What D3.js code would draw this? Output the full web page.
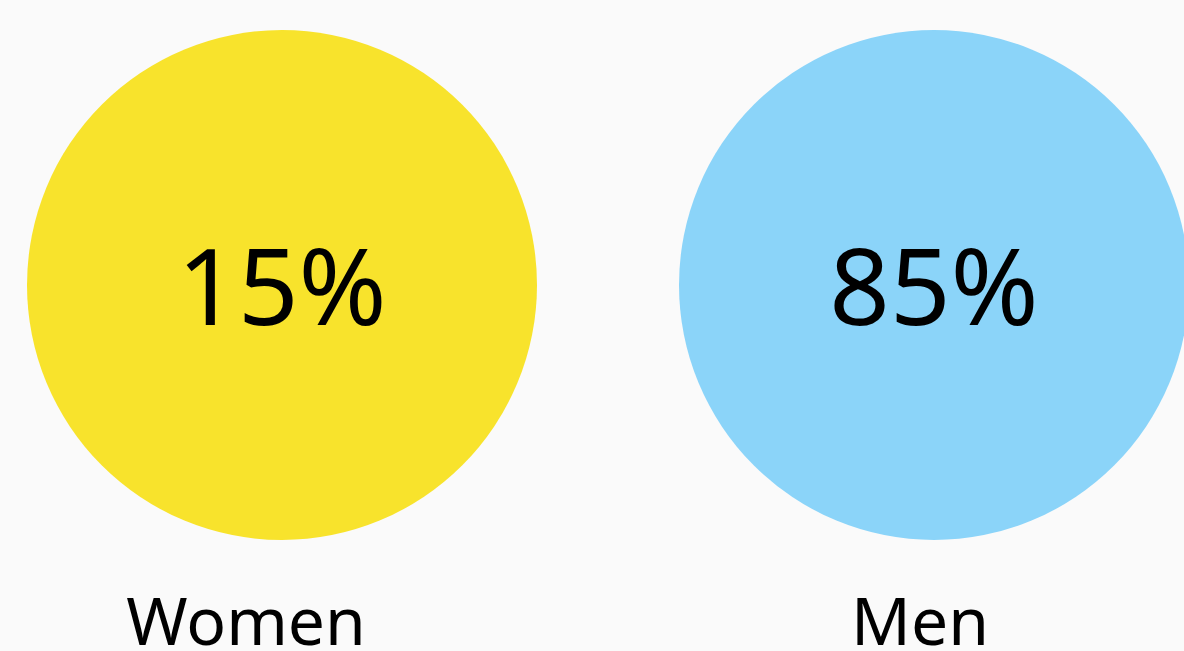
<!DOCTYPE html>
<html>
<head>
<meta charset="utf-8">
<script src="https://cdn.jsdelivr.net/npm/d3@7"></script>
<style>
  html, body { margin: 0; padding: 0; background: #fafafa; overflow: hidden; }
  svg { display: block; }
  text { font-family: "Noto Sans", "Open Sans", sans-serif; fill: #000; }
</style>
</head>
<body>
<svg id="chart" width="1184" height="651"></svg>
<script>
const categories = ["Women", "Men"];
const values = [15, 85];
const colors = ["#f8e32c", "#8bd4f9"];

const W = 1184, H = 651;
const svg = d3.select("#chart");
svg.append("rect").attr("width", W).attr("height", H).attr("fill", "#fafafa");

const x = d3.scalePoint().domain(categories).range([282, 934]);
const cy = 285, r = 255;
const labelDx = [-36, -14];
const fmt = d => d + "%";

const g = svg.selectAll("g.item")
  .data(categories.map((c, i) => ({ c, v: values[i], col: colors[i], dx: labelDx[i] })))
  .join("g").attr("class", "item");

g.append("circle")
  .attr("cx", d => x(d.c))
  .attr("cy", cy)
  .attr("r", r)
  .attr("fill", d => d.col);

g.append("text")
  .attr("x", d => x(d.c))
  .attr("y", 325)
  .attr("text-anchor", "middle")
  .attr("font-size", 106)
  .text(d => fmt(d.v));

g.append("text")
  .attr("x", d => x(d.c) + d.dx)
  .attr("y", 645)
  .attr("text-anchor", "middle")
  .attr("font-size", 66)
  .text(d => d.c);
</script>
</body>
</html>
